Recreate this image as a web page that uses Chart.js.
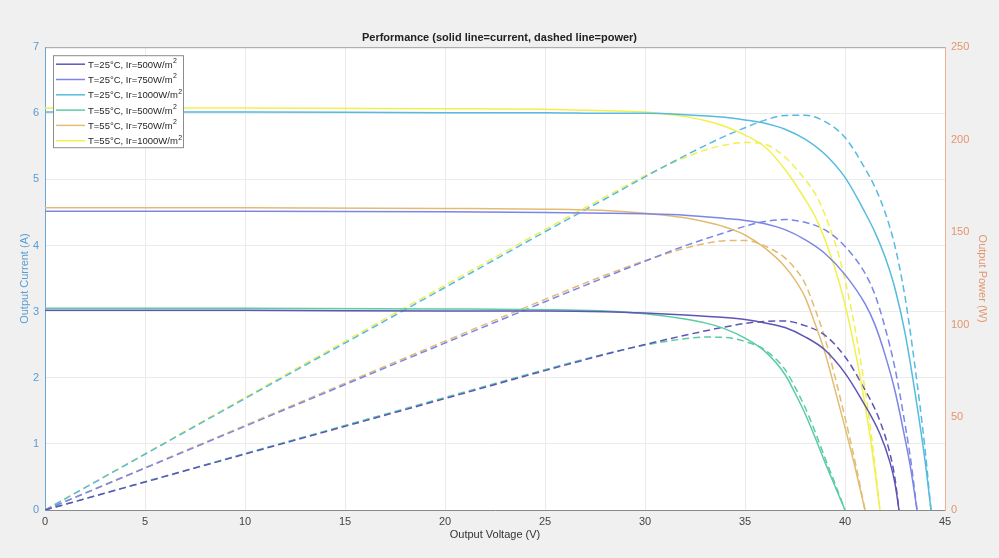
<!DOCTYPE html>
<html>
<head>
<meta charset="utf-8">
<script src="https://cdn.jsdelivr.net/npm/chart.js@4.4.0/dist/chart.umd.min.js"></script>
<style>
  body { margin: 0; background: #f0f0f0; }
  canvas { display: block; }
</style>
</head>
<body>
<canvas id="myChart" width="999" height="558"></canvas>
<script>
// legend labels and line colours
const seriesLabels = ['T=25°C, Ir=500W/m²', 'T=25°C, Ir=750W/m²', 'T=25°C, Ir=1000W/m²',
                      'T=55°C, Ir=500W/m²', 'T=55°C, Ir=750W/m²', 'T=55°C, Ir=1000W/m²'];
const seriesColors = ['#5e55b5', '#7b86e6', '#55bbe0', '#5ccca4', '#e2bc72', '#f2f04e'];

// T=25C, 500 W/m2
const v25_500 = [0, 10, 20, 25, 28, 30, 32, 34, 35, 36, 37, 38, 39, 40, 40.75, 41.75, 42.25, 42.5, 42.7];
const i25_500 = [3.02, 3.02, 3.01, 3.01, 3.00, 2.98, 2.95, 2.91, 2.88, 2.83, 2.76, 2.62, 2.42, 2.07, 1.71, 1.15, 0.72, 0.40, 0];
const p25_500 = [0, 30.2, 60.2, 75.3, 84, 89.4, 94.4, 98.9, 100.8, 101.9, 102.1, 99.6, 94.4, 82.8, 69.7, 48.0, 30.4, 17, 0];

// T=25C, 750 W/m2
const v25_750 = [0, 10, 20, 25, 28, 30, 32, 34, 35, 36, 37, 38, 39, 40, 41, 41.5, 42, 42.5, 43, 43.3, 43.6];
const i25_750 = [4.52, 4.52, 4.51, 4.50, 4.49, 4.48, 4.46, 4.41, 4.38, 4.33, 4.24, 4.09, 3.88, 3.56, 3.12, 2.80, 2.35, 1.80, 1.08, 0.60, 0];
const p25_750 = [0, 45.2, 90.2, 112.5, 125.7, 134.4, 142.7, 149.9, 153.3, 155.9, 156.9, 155.4, 151.3, 142.4, 127.9, 116.2, 98.7, 76.5, 46.4, 26, 0];

// T=25C, 1000 W/m2
const v25_1000 = [0, 10, 20, 25, 28, 30, 32, 34, 35, 36, 37, 38, 39, 40, 41, 41.5, 42, 42.5, 43, 43.5, 44, 44.3];
const i25_1000 = [6.02, 6.02, 6.01, 6.01, 6.00, 6.00, 5.98, 5.94, 5.90, 5.85, 5.76, 5.61, 5.38, 5.03, 4.50, 4.20, 3.83, 3.35, 2.68, 1.78, 0.75, 0];
const p25_1000 = [0, 60.2, 120.2, 150.3, 168, 180, 191.4, 202, 206.5, 210.6, 213.1, 213.2, 209.8, 201.2, 184.5, 174.3, 160.9, 142.4, 115.2, 77.4, 33, 0];

// T=55C, 500 W/m2
const v55_500 = [0, 10, 20, 25, 28, 30, 32, 33, 34, 35, 36, 37, 37.5, 38, 38.5, 39, 39.5, 40];
const i55_500 = [3.05, 3.05, 3.04, 3.03, 3.01, 2.97, 2.89, 2.83, 2.74, 2.60, 2.40, 2.05, 1.77, 1.46, 1.10, 0.72, 0.36, 0];
const p55_500 = [0, 30.5, 60.8, 75.8, 84.3, 89.1, 92.5, 93.4, 93.2, 91, 86.4, 75.9, 66.4, 55.5, 42.4, 28.1, 14.2, 0];

// T=55C, 750 W/m2
const v55_750 = [0, 10, 20, 25, 28, 30, 32, 33, 34, 35, 36, 37, 37.5, 38, 38.5, 39, 39.5, 40, 40.5, 41];
const i55_750 = [4.57, 4.57, 4.56, 4.55, 4.53, 4.49, 4.42, 4.36, 4.28, 4.16, 3.96, 3.68, 3.48, 3.22, 2.82, 2.38, 1.82, 1.25, 0.65, 0];
const p55_750 = [0, 45.7, 91.2, 113.8, 126.8, 134.7, 141.4, 143.9, 145.5, 145.6, 142.6, 136.2, 130.5, 122.4, 108.6, 92.8, 71.9, 50, 26.3, 0];

// T=55C, 1000 W/m2
const v55_1000 = [0, 10, 20, 25, 28, 30, 31, 32, 33, 34, 35, 36, 37, 38, 38.6, 39.25, 39.75, 40.25, 40.75, 41.25, 41.75];
const i55_1000 = [6.08, 6.08, 6.07, 6.06, 6.04, 6.02, 5.99, 5.95, 5.89, 5.80, 5.67, 5.49, 5.15, 4.70, 4.38, 3.88, 3.40, 2.78, 2.02, 1.12, 0];
const p55_1000 = [0, 60.8, 121.4, 151.5, 169.1, 180.6, 185.7, 190.4, 194.4, 197.2, 198.5, 197.6, 190.6, 178.6, 169.1, 152.3, 135.2, 111.9, 82.3, 46.2, 0];

const voltages = [v25_500, v25_750, v25_1000, v55_500, v55_750, v55_1000];
const currents = [i25_500, i25_750, i25_1000, i55_500, i55_750, i55_1000];
const powers   = [p25_500, p25_750, p25_1000, p55_500, p55_750, p55_1000];

const toPoints = (xs, ys) => xs.map((x, k) => ({ x: x, y: ys[k] }));

const datasets = [];
seriesLabels.forEach((label, k) => {
  datasets.push({
    label: label,
    data: toPoints(voltages[k], currents[k]),
    borderColor: seriesColors[k],
    borderWidth: 1.5,
    yAxisID: 'y'
  });
});
seriesLabels.forEach((label, k) => {
  datasets.push({
    label: label + ' power',
    data: toPoints(voltages[k], powers[k]),
    borderColor: seriesColors[k],
    borderWidth: 1.5,
    borderDash: [7, 4],
    yAxisID: 'y1'
  });
});

const fontFamily = '"Liberation Sans", Arial, sans-serif';

// grey figure background, white axes box, top border
const backgroundPlugin = {
  id: 'bg',
  beforeDraw(chart) {
    const { ctx, chartArea: a } = chart;
    ctx.save();
    ctx.fillStyle = '#f0f0f0';
    ctx.fillRect(0, 0, chart.width, chart.height);
    ctx.fillStyle = '#ffffff';
    ctx.fillRect(a.left, a.top, a.right - a.left, a.bottom - a.top);
    ctx.restore();
  },
  afterDraw(chart) {
    const { ctx, chartArea: a } = chart;
    ctx.save();
    ctx.strokeStyle = '#a0a0a0';
    ctx.lineWidth = 1;
    ctx.beginPath();
    ctx.moveTo(a.left, a.top + 0.5);
    ctx.lineTo(a.right, a.top + 0.5);
    ctx.stroke();
    ctx.restore();
  }
};

// MATLAB-like legend box inside the axes
const boxLegendPlugin = {
  id: 'boxLegend',
  afterDatasetsDraw(chart) {
    const { ctx, chartArea: a } = chart;
    const x0 = a.left + 8, y0 = a.top + 8, w = 130, h = 92, rowH = 15.3;
    ctx.save();
    ctx.fillStyle = '#ffffff';
    ctx.fillRect(x0, y0, w, h);
    ctx.strokeStyle = '#8c8c8c';
    ctx.lineWidth = 1;
    ctx.strokeRect(x0 + 0.5, y0 + 0.5, w, h);
    ctx.textBaseline = 'middle';
    seriesLabels.forEach((label, k) => {
      const y = y0 + 9 + rowH * k;
      ctx.strokeStyle = seriesColors[k];
      ctx.lineWidth = 1.5;
      ctx.beginPath();
      ctx.moveTo(x0 + 3, y);
      ctx.lineTo(x0 + 32, y);
      ctx.stroke();
      const main = label.slice(0, -1);
      ctx.fillStyle = '#262626';
      ctx.font = '9.5px ' + fontFamily;
      ctx.fillText(main, x0 + 35, y + 1);
      const tw = ctx.measureText(main).width;
      ctx.font = '7px ' + fontFamily;
      ctx.fillText('2', x0 + 35 + tw + 0.5, y - 3);
    });
    ctx.restore();
  }
};

const ctx = document.getElementById('myChart').getContext('2d');
const chart = new Chart(ctx, {
  type: 'line',
  data: { datasets: datasets },
  plugins: [backgroundPlugin, boxLegendPlugin],
  options: {
    responsive: false,
    animation: false,
    layout: { padding: 0 },
    elements: {
      point: { radius: 0 },
      line: { cubicInterpolationMode: 'monotone', fill: false }
    },
    plugins: {
      legend: { display: false },
      tooltip: { enabled: false },
      title: {
        display: true,
        text: 'Performance (solid line=current, dashed line=power)',
        color: '#222222',
        font: { family: fontFamily, size: 11, weight: 'bold' },
        padding: { top: 31, bottom: 3 }
      }
    },
    scales: {
      x: {
        type: 'linear',
        min: 0,
        max: 45,
        ticks: { stepSize: 5, color: '#444444', padding: 5, font: { family: fontFamily, size: 11 } },
        grid: { color: '#ebebeb', drawTicks: false },
        border: { color: '#8a8a8a' },
        title: {
          display: true, text: 'Output Voltage (V)', color: '#333333',
          font: { family: fontFamily, size: 11 }, padding: { top: 0, bottom: 16 }
        },
        afterFit(s) { s.height = 48; }
      },
      y: {
        position: 'left',
        min: 0,
        max: 7,
        ticks: { stepSize: 1, color: '#5b9bd0', padding: 6, font: { family: fontFamily, size: 11 } },
        grid: { color: '#ebebeb', drawTicks: false },
        border: { color: '#6aa6d6' },
        title: {
          display: true, text: 'Output Current (A)', color: '#5b9bd0',
          font: { family: fontFamily, size: 11 }, padding: { top: 18, bottom: 0 }
        },
        afterFit(s) { s.width = 45; }
      },
      y1: {
        position: 'right',
        min: 0,
        max: 250,
        ticks: { stepSize: 50, color: '#e3956e', padding: 6, font: { family: fontFamily, size: 11 } },
        grid: { drawOnChartArea: false, drawTicks: false },
        border: { color: '#eeb092' },
        title: {
          display: true, text: 'Output Power (W)', color: '#e3956e',
          font: { family: fontFamily, size: 11 }, padding: { top: 10, bottom: 0 }
        },
        afterFit(s) { s.width = 54; }
      }
    }
  }
});
</script>
</body>
</html>
